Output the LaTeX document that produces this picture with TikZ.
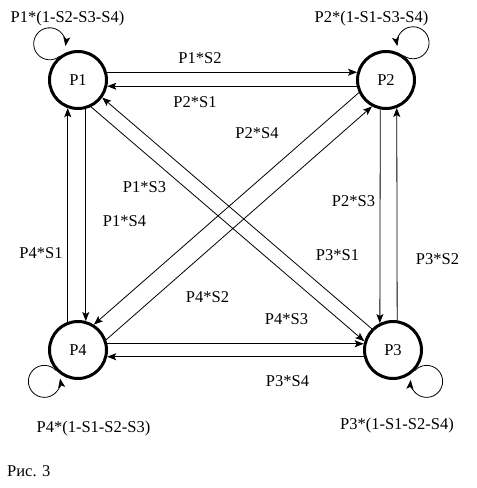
\documentclass[tikz,border=0pt]{standalone}
\usepackage{fontspec}
\setmainfont{Liberation Serif}
\usetikzlibrary{arrows.meta}
\newcommand\diafont{\fontsize{16.5pt}{19pt}\selectfont}
\tikzset{
  state/.style={circle, draw, line width=3pt, minimum size=57pt, inner sep=0pt, font=\diafont},
  conn/.style={line width=0.8pt, -{Stealth[length=9pt,width=7pt,inset=2pt]}},
  lbl/.style={anchor=base, inner sep=0pt, font=\diafont},
}
\begin{document}
\begin{tikzpicture}[x=1pt,y=1pt]
\useasboundingbox (0,0) rectangle (477,488);
\fill[white] (0,0) rectangle (477,488);
% states
\node[state] (P1) at (78,408) {P1};
\node[state] (P2) at (386,408) {P2};
\node[state] (P3) at (393,138) {P3};
\node[state] (P4) at (78,138) {P4};
% horizontal
\draw[conn] (P1.15) -- (P2.165);
\draw[conn] (P2.192) -- (P1.348);
\draw[conn] (P4.12) -- (P3.168);
\draw[conn] (P3.193) -- (P4.347);
% vertical
\draw[conn] (P4.110) -- (P1.250);
\draw[conn] (P1.285) -- (P4.75);
\draw[conn] (P2.259) -- (P3.116);
\draw[conn] (P3.82) -- (P2.291);
% diagonals
\draw[conn] (P3.135) -- (P1.324);
\draw[conn] (P1.296) -- (P3.163);
\draw[conn] (P2.205) -- (P4.58);
\draw[conn] (P4.20) -- (P2.242);
% loops
\draw[conn] (P1.127) arc[start angle=-50, end angle=-368, radius=16];
\draw[conn] (P2.54) arc[start angle=234, end angle=552, radius=16];
\draw[conn] (P4.223) arc[start angle=43, end angle=370, radius=16];
\draw[conn] (P3.317) arc[start angle=137, end angle=-185, radius=16];
% labels
\node[lbl] (L11) at (67.5,465) {P1*(1-S2-S3-S4)};
\node[lbl] (L22) at (371.5,465) {P2*(1-S1-S3-S4)};
\node[lbl] (L44) at (93.5,56) {P4*(1-S1-S2-S3)};
\node[lbl] (L33) at (397,58) {P3*(1-S1-S2-S4)};
\node[lbl] (L12) at (200,424) {P1*S2};
\node[lbl] (L21) at (195,380) {P2*S1};
\node[lbl] (L24) at (257,349) {P2*S4};
\node[lbl] (L13) at (144.5,295) {P1*S3};
\node[lbl] (L14) at (124.5,261) {P1*S4};
\node[lbl] (L23) at (353.5,281) {P2*S3};
\node[lbl] (L41) at (41,229) {P4*S1};
\node[lbl] (L31) at (337.5,227) {P3*S1};
\node[lbl] (L32) at (437.5,223) {P3*S2};
\node[lbl] (L42) at (207.5,185) {P4*S2};
\node[lbl] (L43) at (286.5,163) {P4*S3};
\node[lbl] (L34) at (287.5,101) {P3*S4};
\node[lbl, anchor=base west] (cap) at (7,11) {Рис. 3};
\end{tikzpicture}
\end{document}
